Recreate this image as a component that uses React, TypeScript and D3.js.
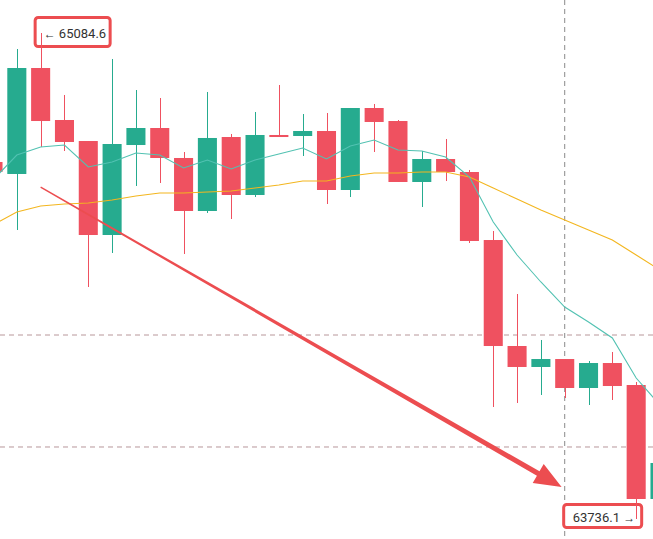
import React from "react";
import * as d3 from "d3";

// OHLC, one entry per candle (first and last are cut by the frame)
const opens = [64726.7, 64693.4, 64987.5, 64843.2, 64784.9, 64524.1, 64773.8, 64821.0, 64737.8, 64590.7, 64796.0, 64635.1, 64801.6, 64798.8, 64812.7, 64649.0, 64876.5, 64840.4, 64671.2, 64735.0, 64698.9, 64510.2, 64216.1, 64157.9, 64180.0, 64099.6, 64168.9, 64107.9, 63791.6];
const highs = [64746.1, 65040.2, 65084.6, 64912.6, 64784.9, 65012.5, 64926.4, 64904.2, 64754.4, 64920.9, 64804.4, 64865.4, 64940.3, 64859.8, 64862.6, 64876.5, 64887.6, 64843.2, 64757.2, 64790.5, 64704.5, 64535.2, 64360.4, 64232.8, 64180.0, 64174.5, 64199.5, 64116.2, 63913.7];
const lows = [64676.7, 64538.0, 64768.3, 64757.2, 64379.8, 64474.2, 64660.1, 64668.4, 64471.4, 64585.2, 64568.5, 64629.5, 64796.0, 64743.3, 64610.1, 64629.5, 64754.4, 64671.2, 64601.8, 64673.9, 64501.9, 64046.9, 64058.0, 64080.2, 64071.8, 64052.4, 64066.3, 63736.1, 63774.9];
const closes = [64698.9, 64987.5, 64840.4, 64782.2, 64524.1, 64776.6, 64821.0, 64737.8, 64590.7, 64793.3, 64635.1, 64801.6, 64796.0, 64812.7, 64649.0, 64876.5, 64837.7, 64671.2, 64735.0, 64698.9, 64507.5, 64216.1, 64157.9, 64180.0, 64099.6, 64168.9, 64105.1, 63791.6, 63891.5];

// moving averages as drawn
const maFast = [64676.7, 64746.1, 64768.3, 64773.8, 64712.8, 64726.7, 64751.6, 64746.1, 64710.0, 64732.2, 64707.2, 64732.2, 64748.9, 64765.5, 64735.0, 64771.1, 64787.7, 64760.0, 64757.2, 64740.5, 64685.0, 64560.2, 64468.6, 64393.7, 64324.3, 64282.7, 64238.3, 64127.3, 64052.4];
const maSlow = [64551.9, 64587.9, 64604.6, 64610.1, 64612.9, 64621.2, 64632.3, 64640.6, 64640.6, 64643.4, 64646.2, 64654.5, 64662.8, 64673.9, 64673.9, 64687.8, 64696.1, 64696.1, 64698.9, 64698.9, 64685.0, 64654.5, 64624.0, 64593.5, 64565.7, 64538.0, 64510.2, 64468.6, 64427.0];

// crosshair / dashed levels and the drawn arrow (index, price)
const crossIndex = 24;
const levelPrices = [64246.6, 63935.9];
const arrowFrom = { i: 2, price: 64657 };
const arrowTo = { i: 23.87, price: 63825 };

const W = 653;
const H = 539;
const UP = "#26ab8f";
const DOWN = "#ef5160";
const MARK = "#ec4d50";

export default function App() {
  const n = opens.length;
  const x = d3.scaleLinear().domain([0, n - 1]).range([-7, 660]);
  const lo = d3.min(lows) as number;
  const hi = d3.max(highs) as number;
  const y = d3.scaleLinear().domain([lo, hi]).range([519, 33]);
  const bw = (x(1) - x(0)) * 0.8;

  const line = d3
    .line<number>()
    .x((_, i) => x(i))
    .y((d) => y(d));

  const hiIdx = highs.indexOf(hi);
  const loIdx = lows.indexOf(lo);
  const hx = x(hiIdx), hy = y(hi);
  const lx = x(loIdx), ly = y(lo);

  // tapered arrow
  const sx = x(arrowFrom.i), sy = y(arrowFrom.price);
  const tx = x(arrowTo.i), ty = y(arrowTo.price);
  const len = Math.hypot(tx - sx, ty - sy);
  const ux = (tx - sx) / len, uy = (ty - sy) / len;
  const nx = -uy, ny = ux;
  const headL = 27, headW = 11;
  const bx = tx - ux * headL, by = ty - uy * headL;
  const pt = (px: number, py: number, k: number) => `${px + nx * k},${py + ny * k}`;
  const arrowPts = [
    pt(sx, sy, 0.7),
    pt(bx, by, 2.6),
    pt(bx, by, headW),
    `${tx},${ty}`,
    pt(bx, by, -headW),
    pt(bx, by, -2.6),
    pt(sx, sy, -0.7),
  ].join(" ");

  const font = "Roboto, 'Liberation Sans', sans-serif";

  return (
    <svg
      width={W}
      height={H}
      style={{ position: "absolute", left: 0, top: 0, background: "#fff" }}
    >
      <rect width={W} height={H} fill="#fff" />

      {/* dashed levels + crosshair */}
      {levelPrices.map((p, i) => (
        <line key={i} x1={0} x2={W} y1={y(p)} y2={y(p)} stroke="#b8979a" strokeDasharray="5,4" strokeWidth={1} />
      ))}
      <line x1={x(crossIndex)} x2={x(crossIndex)} y1={0} y2={H} stroke="#8a8a8a" strokeDasharray="5,4" strokeWidth={1} />

      {/* price labels */}
      <rect x={hx - 5.5} y={hy - 15.5} width={75} height={29} rx={3} fill="#fff" stroke={MARK} strokeWidth={3} />
      <text x={hx + 3} y={hy + 4.5} fontFamily={font} fontSize={13} fill="#333">
        <tspan fontSize={12}>{"\u2190"}</tspan>
        {" " + hi.toFixed(1)}
      </text>
      <rect x={lx - 72.5} y={ly - 14.5} width={78} height={23} rx={3} fill="#fff" stroke={MARK} strokeWidth={3} />
      <text x={lx - 1} y={ly + 3} textAnchor="end" fontFamily={font} fontSize={13} fill="#333">
        {lo.toFixed(1) + " "}
        <tspan fontSize={12}>{"\u2192"}</tspan>
      </text>

      {/* candles */}
      {opens.map((o, i) => {
        const c = closes[i];
        const col = c >= o ? UP : DOWN;
        const cx = Math.round(x(i)) + 0.5;
        const top = y(Math.max(o, c));
        const bot = y(Math.min(o, c));
        return (
          <g key={i}>
            <line x1={cx} x2={cx} y1={y(highs[i])} y2={y(lows[i])} stroke={col} strokeWidth={1} />
            <rect x={x(i) - bw / 2} y={top} width={bw} height={Math.max(1.5, bot - top)} fill={col} />
          </g>
        );
      })}

      {/* moving averages */}
      <path d={line(maSlow) || ""} fill="none" stroke="#f3b61f" strokeWidth={1.1} />
      <path d={line(maFast) || ""} fill="none" stroke="#52c2b2" strokeWidth={1.1} />

      {/* arrow */}
      <polygon points={arrowPts} fill={MARK} />
    </svg>
  );
}
